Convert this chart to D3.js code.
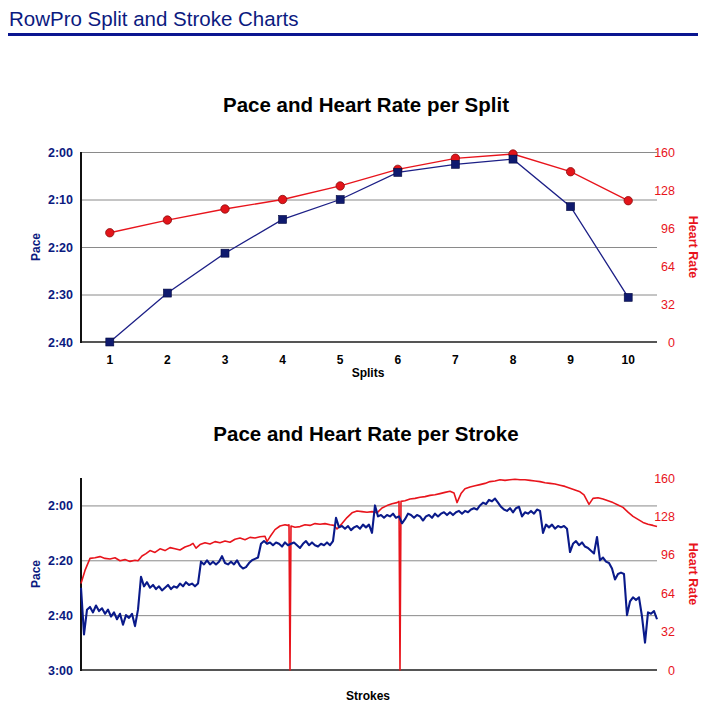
<!DOCTYPE html>
<html>
<head>
<meta charset="utf-8">
<script src="https://cdn.jsdelivr.net/npm/d3@7/dist/d3.min.js"></script>
<style>
  body { margin: 0; background: #fff; }
  svg { display: block; font-family: "Liberation Sans", Arial, Helvetica, sans-serif; }
</style>
</head>
<body>
<svg id="chart" width="715" height="710"></svg>
<script>
// ---------------- DATA ----------------
const pageTitle = "RowPro Split and Stroke Charts";
const splitTitle = "Pace and Heart Rate per Split";
const strokeTitle = "Pace and Heart Rate per Stroke";

const splits = [1, 2, 3, 4, 5, 6, 7, 8, 9, 10];
// pace in seconds per 500m
const splitPace = [160, 149.7, 141.3, 134.2, 130.0, 124.3, 122.6, 121.5, 131.5, 150.6];
const splitHR = [92, 102.7, 112, 120, 131.4, 145.4, 154.7, 158.3, 143.4, 119];

const splitPaceTicks = [120, 130, 140, 150, 160];
const hrTicks = [0, 32, 64, 96, 128, 160];
const strokePaceTicks = [120, 140, 160, 180];

// per-stroke pace, one value every 3 strokes
const strokeStep = 3;
const strokePace = [
  150, 167, 158, 157, 159, 156.5, 158.5, 157.5, 159.5, 158,
  160.5, 159, 161.5, 159.5, 163.5, 160, 161, 159.5, 164, 158,
  146, 149.5, 148, 150, 149, 150.5, 149.5, 151, 150, 149,
  150.5, 149.5, 150, 148.5, 149.5, 148, 149, 148.5, 149.5, 148.5,
  140.5, 141.5, 140, 141.5, 140.5, 141.5, 140.5, 138.5, 141, 141.5,
  140.5, 141.5, 140, 142, 143, 142.5, 141, 140, 139.5, 139,
  134, 133, 134, 133.5, 134.5, 133.5, 134, 135, 133.5, 134.5,
  134, 133.5, 134.5, 135.5, 134, 133, 134.5, 133.5, 134.5, 135,
  134, 134.5, 133.5, 134.5, 133, 124.5, 128, 127.5, 128.5, 127.5,
  129, 128, 127.5, 128.5, 127, 128, 127, 130, 120, 124,
  123.5, 124.5, 123.5, 124, 123, 124.5, 124, 126.5, 125, 123,
  123.5, 124.5, 123.5, 124, 125.5, 124, 123.5, 124.5, 123, 124,
  123, 122.5, 123.5, 122.5, 123.5, 122.5, 122, 123, 122, 122.5,
  121.5, 121, 121.5, 120, 119, 119.5, 118, 118.5, 117.5, 119,
  120.5, 121.5, 122, 121, 122.5, 121, 120.5, 124, 122.5, 123,
  122, 123, 121.5, 122, 130, 127, 128, 127, 128.5, 127.5,
  128, 127.5, 128.5, 137, 134, 133, 134.5, 133.5, 135, 135.5,
  136.5, 137.5, 131.5, 140, 139, 140.5, 141, 143, 147, 145,
  144.5, 145, 160, 155, 153.5, 154.5, 153.5, 160.5, 170, 159,
  159.5, 158.5, 161.5
];

// per-stroke heart rate, [stroke, bpm]
const strokeHR = [
  [0, 72], [4, 83], [9, 93], [14, 93.5], [19, 94.5], [24, 93], [29, 92.5], [34, 93.5],
  [39, 91], [44, 92], [49, 90.5], [54, 91.5], [57, 91], [61, 95], [65, 97], [69, 99.5],
  [74, 98], [79, 101], [84, 99.5], [89, 102], [94, 101], [99, 100], [104, 102.5],
  [109, 104], [112, 105.5], [115, 101.5], [119, 104.5], [124, 106], [129, 105],
  [134, 107], [139, 106], [144, 107.5], [149, 106.5], [154, 109], [159, 110],
  [164, 108.5], [169, 110.5], [174, 110], [179, 111], [184, 111.5], [186, 107],
  [189, 111], [194, 117], [199, 120], [204, 121], [207, 120.5], [208, 121], [209, 0],
  [210, 120], [214, 119], [219, 119.5], [224, 121], [229, 120.5], [234, 122],
  [239, 121.5], [244, 122], [249, 121], [253, 120.5], [256, 117.5], [261, 122],
  [266, 127], [271, 131], [276, 132.5], [281, 132], [286, 131.5], [291, 132],
  [296, 131], [301, 135], [306, 137], [311, 138.5], [316, 139.5], [318, 140.5],
  [319, 0], [320, 140.5], [324, 141], [329, 142.5], [334, 143], [339, 144],
  [344, 144.5], [349, 145.5], [354, 146], [359, 147], [364, 148], [369, 149],
  [373, 147.5], [376, 139.5], [380, 147], [384, 151], [389, 152.5], [394, 153.5],
  [399, 154.5], [404, 155.5], [409, 157], [414, 157.5], [419, 158.5], [424, 158],
  [429, 158.5], [434, 159], [439, 158.5], [444, 158.5], [449, 158], [454, 157.5],
  [459, 157], [464, 156], [469, 155.5], [474, 155], [479, 154], [484, 153],
  [489, 151.5], [494, 150], [499, 148.5], [503, 146], [508, 138], [512, 143],
  [517, 143.5], [522, 142.5], [527, 141], [532, 139.5], [537, 137.5], [542, 135.5],
  [547, 131.5], [552, 128], [557, 125.5], [562, 123], [567, 121.5], [572, 120.5],
  [576, 119.5]
];

// ---------------- STYLE ----------------
const NAVY = "#0b1a80";
const RED = "#e8141c";
const GRID = "#8a8a8a";
const fmtPace = s => Math.floor(s / 60) + ":" + String(Math.round(s % 60)).padStart(2, "0");

const svg = d3.select("#chart");

// page header
svg.append("text").attr("x", 9).attr("y", 26)
  .attr("font-size", 20.5).attr("fill", NAVY).text(pageTitle);
svg.append("rect").attr("x", 8).attr("y", 33).attr("width", 690).attr("height", 3)
  .attr("fill", "#0a1690");

function drawFrame(cfg) {
  const { top, bottom, left, right, yPace, yHR, paceTicks, title, titleY, xLabel, xLabelY } = cfg;
  const g = svg.append("g");
  g.append("text").attr("x", 366).attr("y", titleY).attr("text-anchor", "middle")
    .attr("font-size", 20.5).attr("font-weight", "bold").attr("fill", "#000").text(title);

  const leftAxis = d3.axisLeft(yPace).tickValues(paceTicks).tickFormat(fmtPace)
    .tickSize(-(right - left)).tickPadding(8);
  const ga = g.append("g").attr("transform", `translate(${left},0)`).call(leftAxis);
  ga.select(".domain").remove();
  ga.selectAll(".tick line").attr("stroke", GRID).attr("stroke-width", 1)
    .attr("opacity", d => (yPace(d) >= bottom - 0.5 ? 0 : 1));
  ga.selectAll(".tick text").attr("fill", NAVY).attr("font-weight", "bold")
    .attr("font-size", 12.5).attr("font-family", "Liberation Sans, Arial, sans-serif");

  const rightAxis = d3.axisRight(yHR).tickValues(hrTicks).tickSize(0).tickPadding(18);
  const gr = g.append("g").attr("transform", `translate(${right},0)`).call(rightAxis);
  gr.select(".domain").remove();
  gr.selectAll(".tick text").attr("fill", RED).attr("font-size", 12.5)
    .attr("text-anchor", "end").attr("font-family", "Liberation Sans, Arial, sans-serif");

  g.append("line").attr("x1", left).attr("x2", right).attr("y1", bottom).attr("y2", bottom)
    .attr("stroke", "#555").attr("stroke-width", 2);
  g.append("line").attr("x1", left).attr("x2", left).attr("y1", top).attr("y2", bottom + 1)
    .attr("stroke", "#111").attr("stroke-width", 2);

  const midY = (top + bottom) / 2;
  g.append("text").attr("transform", `translate(40,${midY}) rotate(-90)`)
    .attr("text-anchor", "middle").attr("font-weight", "bold").attr("font-size", 12)
    .attr("fill", NAVY).text("Pace");
  g.append("text").attr("transform", `translate(689,${midY}) rotate(90)`)
    .attr("text-anchor", "middle").attr("font-weight", "bold").attr("font-size", 12.5)
    .attr("fill", RED).text("Heart Rate");
  g.append("text").attr("x", 368).attr("y", xLabelY).attr("text-anchor", "middle")
    .attr("font-weight", "bold").attr("font-size", 12).attr("fill", "#000").text(xLabel);
  return g;
}

// ---------------- SPLIT CHART ----------------
{
  const left = 81, right = 657, top = 152, bottom = 342;
  const x = d3.scaleBand().domain(splits).range([left, right]);
  const cx = d => x(d) + x.bandwidth() / 2;
  const yPace = d3.scaleLinear().domain([120, 160]).range([top, bottom]);
  const yHR = d3.scaleLinear().domain([0, 160]).range([bottom, top]);
  const g = drawFrame({ top, bottom, left, right, yPace, yHR, paceTicks: splitPaceTicks,
    title: splitTitle, titleY: 112, xLabel: "Splits", xLabelY: 377 });

  const xAxis = d3.axisBottom(x).tickSize(0).tickPadding(13);
  const gx = g.append("g").attr("transform", `translate(0,${bottom})`).call(xAxis);
  gx.select(".domain").remove();
  gx.selectAll(".tick text").attr("font-weight", "bold").attr("font-size", 12)
    .attr("fill", "#000").attr("font-family", "Liberation Sans, Arial, sans-serif");

  const hrPts = splits.map((s, i) => [cx(s), yHR(splitHR[i])]);
  const pacePts = splits.map((s, i) => [cx(s), yPace(splitPace[i])]);

  g.append("path").attr("d", d3.line()(hrPts)).attr("fill", "none")
    .attr("stroke", RED).attr("stroke-width", 1.3);
  g.append("path").attr("d", d3.line()(pacePts)).attr("fill", "none")
    .attr("stroke", "#1c1f86").attr("stroke-width", 1.3);

  g.selectAll("circle.hr").data(hrPts).join("circle").attr("class", "hr")
    .attr("cx", d => d[0]).attr("cy", d => d[1]).attr("r", 4.2)
    .attr("fill", "#e3141a").attr("stroke", "#8a0d0d").attr("stroke-width", 0.8);
  g.selectAll("rect.pace").data(pacePts).join("rect").attr("class", "pace")
    .attr("x", d => d[0] - 4).attr("y", d => d[1] - 4).attr("width", 8).attr("height", 8)
    .attr("fill", "#0f1a6e").attr("stroke", "#050a40").attr("stroke-width", 0.6);
}

// ---------------- STROKE CHART ----------------
{
  const left = 81, right = 657, top = 478, bottom = 670;
  const nStrokes = (strokePace.length - 1) * strokeStep;
  const x = d3.scaleLinear().domain([0, nStrokes]).range([left, right]);
  const yPace = d3.scaleLinear().domain([110, 180]).range([top, bottom]);
  const yHR = d3.scaleLinear().domain([0, 160]).range([bottom, top]);
  const g = drawFrame({ top, bottom, left, right, yPace, yHR, paceTicks: strokePaceTicks,
    title: strokeTitle, titleY: 441, xLabel: "Strokes", xLabelY: 700 });

  const hrLine = d3.line().x(d => x(d[0])).y(d => yHR(d[1]));
  const paceLine = d3.line().x((d, i) => x(i * strokeStep)).y(d => yPace(d));

  g.append("path").attr("d", hrLine(strokeHR)).attr("fill", "none")
    .attr("stroke", RED).attr("stroke-width", 1.6).attr("stroke-linejoin", "round");
  g.append("path").attr("d", paceLine(strokePace)).attr("fill", "none")
    .attr("stroke", "#0a1a8a").attr("stroke-width", 2.1).attr("stroke-linejoin", "round");
}
</script>
</body>
</html>
